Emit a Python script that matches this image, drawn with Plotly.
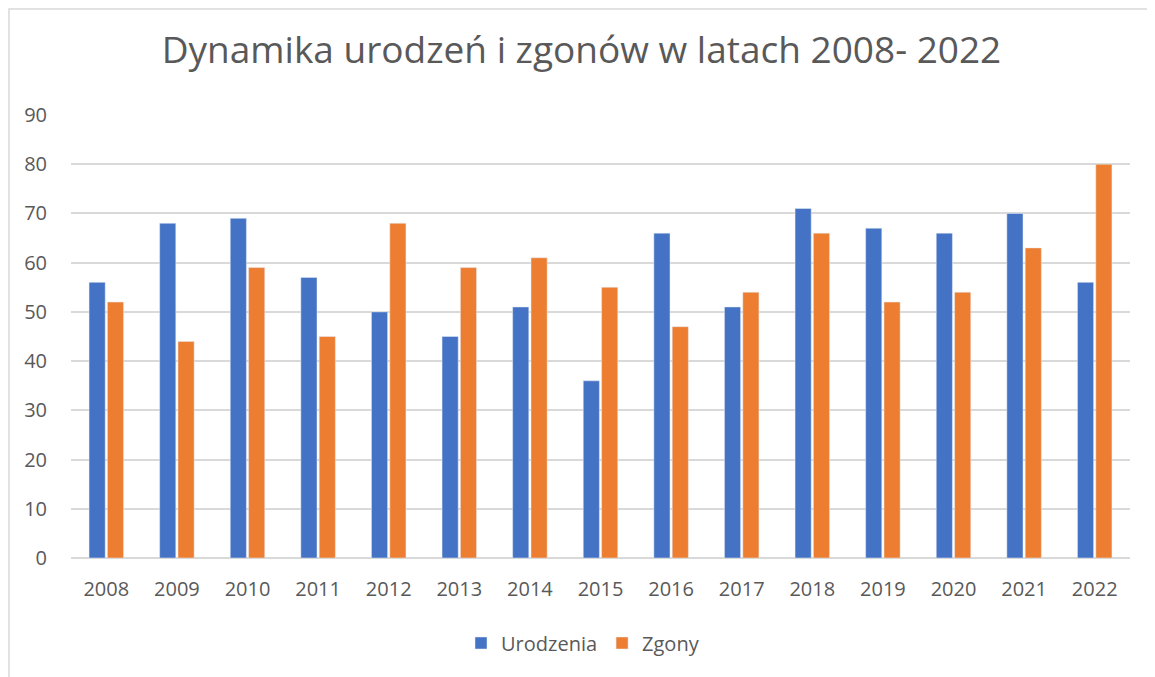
import plotly.graph_objects as go

years = [str(y) for y in range(2008, 2023)]
urodzenia = [56, 68, 69, 57, 50, 45, 51, 36, 66, 51, 71, 67, 66, 70, 56]
zgony = [52, 44, 59, 45, 68, 59, 61, 55, 47, 54, 66, 52, 54, 63, 80]

BLUE = "#4472C4"
ORANGE = "#ED7D31"
TXT = "#595959"
FONT = "Open Sans, Carlito, Calibri, sans-serif"

fig = go.Figure()
fig.add_trace(go.Bar(x=years, y=urodzenia, name="Urodzenia", marker_color=BLUE))
fig.add_trace(go.Bar(x=years, y=zgony, name="Zgony", marker_color=ORANGE))

# page has an 8px body offset; target plot area (screen px) x 71..1130, y 115..558
OFF = 8
W, H = 1155 - OFF, 677 - OFF
L, T = 71 - OFF, 115 - OFF
R, B = W - (1130 - OFF), H - (558 - OFF)
pw, ph = W - L - R, H - T - B


def px_y(py):
    return (558 - py) / ph


def px_x(px):
    return (px - 71) / pw


fig.update_layout(
    width=W, height=H,
    paper_bgcolor="white", plot_bgcolor="white",
    margin=dict(l=L, r=R, t=T, b=B),
    font=dict(family=FONT, color=TXT, size=20),
    title=dict(text="Dynamika urodzeń i zgonów w latach 2008- 2022",
               x=0.5, xanchor="center", y=1 - (50 - OFF) / H, yanchor="middle",
               font=dict(size=37, color=TXT)),
    barmode="group", bargap=0.48, bargroupgap=0.12,
    xaxis=dict(showgrid=False, showline=False, ticks="", tickfont=dict(size=20),
               ticklabelstandoff=17),
    yaxis=dict(range=[0, 90], dtick=10, gridcolor="#D9D9D9", gridwidth=1.5,
               zeroline=True, zerolinecolor="#D9D9D9", zerolinewidth=1.5,
               tickfont=dict(size=20), ticklabelstandoff=23),
    legend=dict(orientation="h", x=px_x(583), xanchor="center", y=px_y(643), yanchor="middle",
                font=dict(size=20), itemwidth=30, traceorder="normal"),
    showlegend=True,
    shapes=[dict(type="rect", xref="paper", yref="paper",
                 x0=px_x(9), x1=px_x(1175),
                 y0=px_y(700), y1=px_y(9),
                 line=dict(color="#D9D9D9", width=1.5), fillcolor="rgba(0,0,0,0)", layer="below")],
)

fig.write_html("out.html")
